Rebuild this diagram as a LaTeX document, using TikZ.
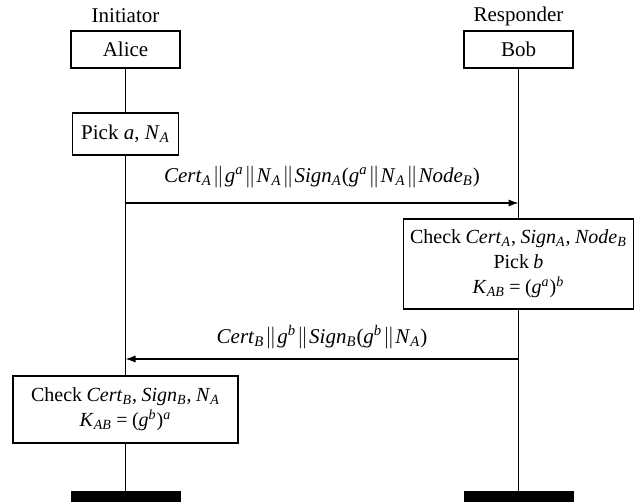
\documentclass[tikz,border=0pt]{standalone}
\usepackage{fontspec}
\setmainfont{Liberation Serif}
\usetikzlibrary{arrows.meta}
\newcommand{\vsub}[2]{\textit{#1}\textsubscript{\textit{#2}}}
\newcommand{\vsup}[2]{\textit{#1}\textsuperscript{\textit{#2}}}
\newcommand{\cc}{\kern0.5pt$\|$\kern0.5pt}
\newcommand{\tightsp}{\spaceskip=2.2pt plus 1pt minus 0.5pt\relax}
\begin{document}
\begin{tikzpicture}[x=0.5pt,y=-0.5pt,
  font=\fontsize{10.5}{12.5}\selectfont,
  box/.style={draw, line width=0.6pt, fill=white, inner sep=0pt, align=center},
  chkbox/.style={box, font=\fontsize{10}{12.5}\selectfont\tightsp},
  life/.style={line width=0.6pt},
  msg/.style={line width=0.6pt, -{Latex[length=5pt,width=3.6pt]}},
  endbar/.style={fill=black, draw=none, inner sep=0pt, minimum width=55pt, minimum height=5.5pt},
  role/.style={inner sep=0pt}]
\useasboundingbox (0,0) rectangle (636,502);
\node[role] (ini) at (125.5,16) {Initiator};
\node[role] (res) at (518.5,16) {Responder};
\node[box, minimum width=54.5pt, minimum height=18.5pt] (alice) at (125.5,49.5) {Alice};
\node[box, minimum width=54.5pt, minimum height=18.5pt] (bob) at (518.5,49.5) {Bob};
\node[endbar] (abar) at (125.5,496.5) {};
\node[endbar] (bbar) at (518.5,496.5) {};
\draw[life] (alice.south) -- (abar.north);
\draw[life] (bob.south) -- (bbar.north);
\node[box, minimum width=53pt, minimum height=21pt] (pick) at (125.5,134) {Pick \textit{a}, \vsub{N}{A}};
\node[chkbox, minimum width=115pt, minimum height=45pt] (chkb) at (518.5,264)
  {Check \vsub{Cert}{A}, \vsub{Sign}{A}, \vsub{Node}{B}\\ Pick \textit{b}\\ \vsub{K}{AB} = (\vsup{g}{a})\textsuperscript{\textit{b}}};
\node[chkbox, minimum width=112.5pt, minimum height=33.5pt] (chka) at (125.5,409.5)
  {Check \vsub{Cert}{B}, \vsub{Sign}{B}, \vsub{N}{A}\\ \vsub{K}{AB} = (\vsup{g}{b})\textsuperscript{\textit{a}}};
\coordinate (a1) at (125.5,203);
\coordinate (b1) at (518.5,203);
\coordinate (a2) at (125.5,359);
\coordinate (b2) at (518.5,359);
\draw[msg] (a1) -- node[midway, yshift=13pt, inner sep=0pt] (m1)
  {\vsub{Cert}{A}\cc\vsup{g}{a}\cc\vsub{N}{A}\cc\vsub{Sign}{A}(\vsup{g}{a}\cc\vsub{N}{A}\cc\vsub{Node}{B})} (b1);
\draw[msg] (b2) -- node[midway, yshift=11pt, inner sep=0pt] (m2)
  {\vsub{Cert}{B}\cc\vsup{g}{b}\cc\vsub{Sign}{B}(\vsup{g}{b}\cc\vsub{N}{A})} (a2);
\end{tikzpicture}
\end{document}
